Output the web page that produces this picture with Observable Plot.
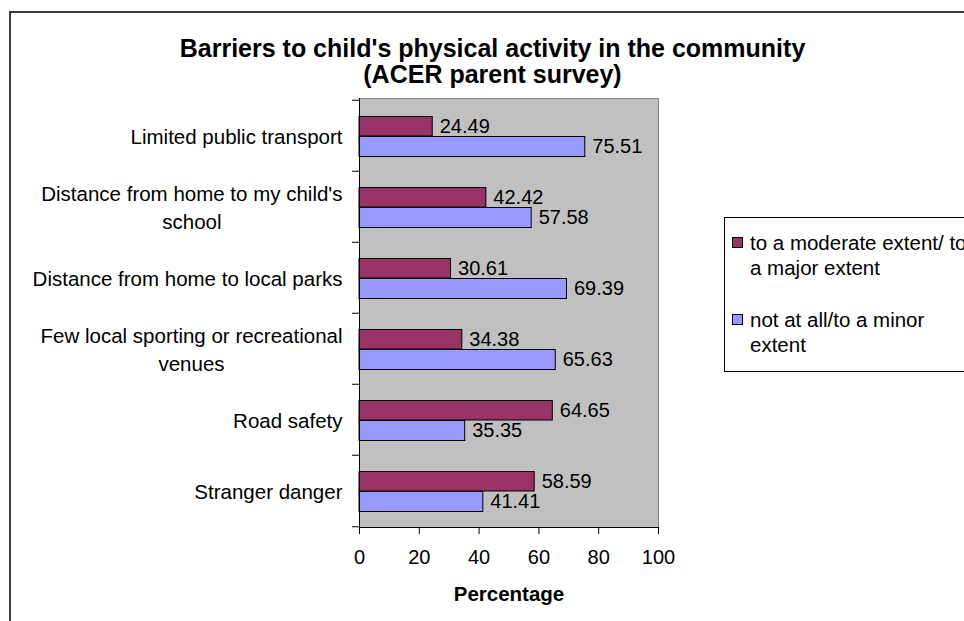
<!DOCTYPE html>
<html>
<head>
<meta charset="utf-8">
<script src="https://cdn.jsdelivr.net/npm/d3@7"></script>
<script src="https://cdn.jsdelivr.net/npm/@observablehq/plot@0.6"></script>
<style>
  html, body { margin: 0; padding: 0; background: #fff; width: 964px; height: 621px; overflow: hidden; }
  #wrap { position: relative; width: 964px; height: 621px; font-family: "Liberation Sans", Arial, sans-serif; }
  #border { position: absolute; left: 9px; top: 11px; width: 1100px; height: 800px; border: 2px solid #3a3a3a; box-sizing: border-box; }
  #legend { position: absolute; left: 724px; top: 217px; width: 300px; height: 155px; border: 1px solid #000; background: #fff; box-sizing: border-box; }
  .sw { position: absolute; left: 7px; width: 11px; height: 11px; border: 1px solid #000; box-sizing: border-box; }
  .lt { position: absolute; left: 25px; font-size: 20.5px; line-height: 25px; white-space: pre; color: #000; }
  svg { position: absolute; left: 0; top: 0; }
</style>
</head>
<body>
<div id="wrap"><div id="border"></div></div>
<script>
const categories = [
  "Limited public transport",
  "Distance from home to my child's school",
  "Distance from home to local parks",
  "Few local sporting or recreational venues",
  "Road safety",
  "Stranger danger"
];
const categoryLabels = [
  "Limited public transport",
  "Distance from home to my child's\nschool",
  "Distance from home to local parks",
  "Few local sporting or recreational\nvenues",
  "Road safety",
  "Stranger danger"
];
const series = ["to a moderate extent/ to a major extent", "not at all/to a minor extent"];
const legendLabels = ["to a moderate extent/ to\na major extent", "not at all/to a minor\nextent"];
const majorValues = [24.49, 42.42, 30.61, 34.38, 64.65, 58.59];
const minorValues = [75.51, 57.58, 69.39, 65.63, 35.35, 41.41];
const xTicks = [0, 20, 40, 60, 80, 100];
const colors = ["#993366", "#9999FF"];
const title = "Barriers to child's physical activity in the community\n(ACER parent survey)";
const xLabel = "Percentage";

const majorRows = categories.map((c, i) => ({category: c, series: series[0], value: majorValues[i]}));
const minorRows = categories.map((c, i) => ({category: c, series: series[1], value: minorValues[i]}));

const W = 964, H = 621;
const mTop = 98, mBottom = 94, mLeft = 359, mRight = 306;
const bw = (H - mTop - mBottom) / categories.length;
const fmt = d3.format(".2f");
const font = "Liberation Sans, Arial, sans-serif";

const chart = Plot.plot({
  width: W,
  height: H,
  marginTop: mTop,
  marginBottom: mBottom,
  marginLeft: mLeft,
  marginRight: mRight,
  style: {background: "transparent", fontFamily: font, fontSize: "20px", color: "#000", overflow: "visible"},
  x: {domain: [0, 100]},
  y: {domain: categories, padding: 0},
  marks: [
    Plot.frame({fill: "#c0c0c0", stroke: "#808080"}),
    Plot.barX(majorRows, {x: "value", y: "category", fill: colors[0], stroke: "#000", strokeWidth: 1, insetTop: 16.5, insetBottom: 35}),
    Plot.barX(minorRows, {x: "value", y: "category", fill: colors[1], stroke: "#000", strokeWidth: 1, insetTop: 36.5, insetBottom: 14.5}),
    Plot.frame({anchor: "left", stroke: "#000"}),
    Plot.frame({anchor: "bottom", stroke: "#000"}),
    Plot.axisX(xTicks, {tickSize: 7, tickPadding: 15, fontSize: 20, label: null, tickFormat: d => String(d)}),
    Plot.axisY(categories, {tickSize: 7, dy: -bw / 2, tickFormat: () => "", label: null}),
    Plot.axisY([categories[categories.length - 1]], {tickSize: 7, dy: bw / 2, tickFormat: () => "", label: null}),
    Plot.text(categories, {y: d => d, text: (d, i) => categoryLabels[i], frameAnchor: "left", dx: -17, dy: -1, textAnchor: "end", lineAnchor: "middle", lineHeight: 1.37, fontSize: 20.5, ariaDescription: "category-labels"}),
    Plot.text(majorRows, {x: "value", y: "category", text: d => fmt(d.value), dx: 7, dy: -9, textAnchor: "start", lineAnchor: "middle", fontSize: 20}),
    Plot.text(minorRows, {x: "value", y: "category", text: d => fmt(d.value), dx: 7, dy: 11, textAnchor: "start", lineAnchor: "middle", fontSize: 20}),
    Plot.text([title], {frameAnchor: "top", dx: -16.5, dy: -37, lineAnchor: "middle", lineHeight: 1.06, fontSize: 25, fontWeight: "bold"}),
    Plot.text([xLabel], {frameAnchor: "bottom", dy: 67, lineAnchor: "middle", fontSize: 20.5, fontWeight: "bold"})
  ]
});

const wrap = document.getElementById("wrap");
wrap.appendChild(chart);

// centre wrapped second lines of category labels under their first lines (Excel style)
chart.querySelectorAll('g[aria-description="category-labels"] text').forEach(t => {
  const spans = t.querySelectorAll("tspan");
  if (spans.length > 1) {
    const w = spans[0].getComputedTextLength();
    t.setAttribute("text-anchor", "middle");
    t.style.textAnchor = "middle";
    spans.forEach(s => s.setAttribute("x", -w / 2));
  }
});

// legend
const legend = document.createElement("div");
legend.id = "legend";
const centers = [24, 101];
series.forEach((s, i) => {
  const sw = document.createElement("div");
  sw.className = "sw";
  sw.style.top = (centers[i] - 5.5) + "px";
  sw.style.background = colors[i];
  legend.appendChild(sw);
  const lt = document.createElement("div");
  lt.className = "lt";
  lt.style.top = (centers[i] - 12.5) + "px";
  lt.textContent = legendLabels[i];
  legend.appendChild(lt);
});
wrap.appendChild(legend);
</script>
</body>
</html>
